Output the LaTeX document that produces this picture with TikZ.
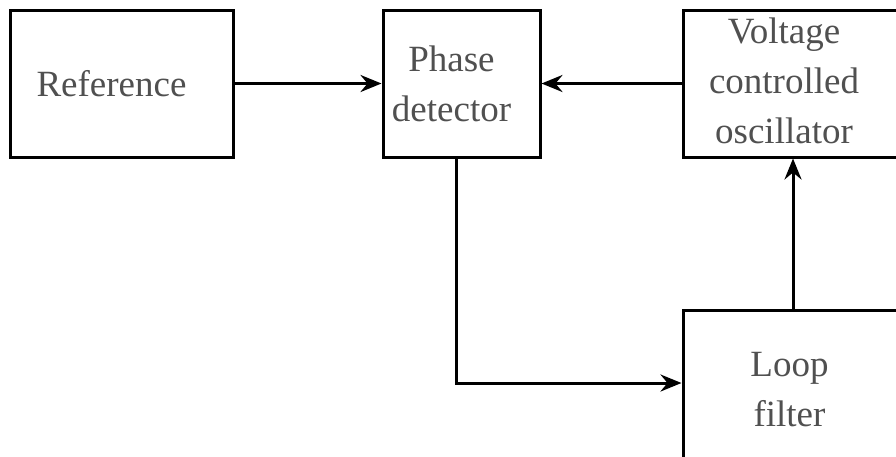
\documentclass[tikz,border=0pt]{standalone}
\usepackage{fontspec}
\setmainfont{Liberation Serif}
\usetikzlibrary{arrows.meta}
\definecolor{txt}{RGB}{80,80,80}
\tikzset{
  box/.style={draw=black, line width=3pt, rectangle, inner sep=0pt},
  lbl/.style={text=txt, align=center, font=\fontsize{37}{50}\selectfont},
  conn/.style={line width=3pt, -{Stealth[length=21pt,width=17pt,inset=7pt]}}
}
\begin{document}
\begin{tikzpicture}[x=1pt,y=-1pt]
\useasboundingbox (0,0) rectangle (896,456);
\clip (0,0) rectangle (896,456);
\node[box, minimum width=223pt, minimum height=147pt,
  label={[lbl,xshift=-10pt]center:Reference}] (ref) at (121.5,83.5) {};
\node[box, minimum width=157pt, minimum height=147pt,
  label={[lbl,xshift=-10pt]center:{Phase\\detector}}] (pd) at (461.5,83.5) {};
\node[box, minimum width=222pt, minimum height=147pt,
  label={[lbl,xshift=-10pt,yshift=3pt]center:{Voltage\\controlled\\oscillator}}] (vco) at (794,83.5) {};
\node[box, minimum width=217pt, minimum height=160pt,
  label={[lbl,xshift=-2pt]center:{Loop\\filter}}] (lf) at (791.5,390) {};
\draw[conn] (ref.east) -- (pd.west);
\draw[conn] (vco.west) -- (pd.east);
\draw[conn] ([xshift=-5.5pt]pd.south) |- ([yshift=7pt]lf.west);
\draw[conn] ([xshift=1.5pt]lf.north) -- ([xshift=1.5pt]lf.north |- vco.south);
\end{tikzpicture}
\end{document}
